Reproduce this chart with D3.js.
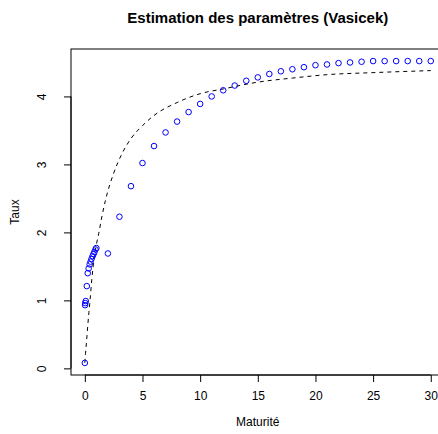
<!DOCTYPE html>
<html>
<head>
<meta charset="utf-8">
<script src="https://cdn.jsdelivr.net/npm/d3@7"></script>
<style>
  html, body { margin: 0; padding: 0; background: #fff; }
  svg { display: block; font-family: "Liberation Sans", Arial, Helvetica, sans-serif; }
</style>
</head>
<body>
<svg id="chart" width="438" height="434"></svg>
<script>
// Observed zero-coupon rates by maturity (years)
const maturites = [0, 0.02, 0.04, 0.08, 0.17, 0.25, 0.33, 0.42, 0.5, 0.58, 0.67, 0.75, 0.83, 0.92, 1,
  2, 3, 4, 5, 6, 7, 8, 9, 10, 11, 12, 13, 14, 15, 16, 17, 18, 19, 20,
  21, 22, 23, 24, 25, 26, 27, 28, 29, 30];
const tauxObserves = [0.08, 0.93, 0.96, 0.99, 1.21, 1.40, 1.47, 1.53, 1.57, 1.61, 1.65, 1.68, 1.71, 1.75, 1.77,
  1.69, 2.23, 2.68, 3.02, 3.27, 3.47, 3.63, 3.77, 3.89, 4.00, 4.09, 4.16, 4.23, 4.28, 4.33, 4.37, 4.40, 4.43, 4.46,
  4.47, 4.49, 4.50, 4.51, 4.52, 4.52, 4.52, 4.52, 4.52, 4.52];

// Fitted Vasicek curve
const maturitesModele = [0, 0.06, 0.15, 0.25, 0.35, 0.45, 0.6, 0.84, 1, 1.2, 1.5, 1.8, 2.5, 3.2, 4, 5, 6, 8, 10, 12, 15, 18, 21, 25, 30];
const tauxModele = [0.08, 0.22, 0.40, 0.62, 0.82, 1.0, 1.3, 1.66, 1.82, 1.98, 2.25, 2.48, 2.87, 3.15, 3.38, 3.57, 3.72, 3.91, 4.04, 4.11, 4.21, 4.27, 4.32, 4.35, 4.38];

const xTicks = [0, 5, 10, 15, 20, 25, 30];
const yTicks = [0, 1, 2, 3, 4];

const titre = "Estimation des paramètres (Vasicek)";
const titreX = "Maturité";
const titreY = "Taux";

const svg = d3.select("#chart");
const plot = { left: 71, top: 49, right: 444.6, bottom: 375 };

// Axis limits padded by 4% on both sides
function pad(ext) {
  const d = (ext[1] - ext[0]) * 0.04;
  return [ext[0] - d, ext[1] + d];
}
const x = d3.scaleLinear().domain(pad(d3.extent(maturites))).range([plot.left, plot.right]);
const y = d3.scaleLinear().domain(pad(d3.extent(tauxObserves))).range([plot.bottom, plot.top]);

const g = svg.append("g");

// Fitted curve
const line = d3.line()
  .x((d, i) => x(maturitesModele[i]))
  .y((d, i) => y(tauxModele[i]))
  .curve(d3.curveMonotoneX);
g.append("path")
  .datum(tauxModele)
  .attr("d", line)
  .attr("fill", "none")
  .attr("stroke", "#000")
  .attr("stroke-width", 1)
  .attr("stroke-dasharray", "4,4");

// Observed points
g.selectAll("circle.obs")
  .data(tauxObserves)
  .join("circle")
  .attr("class", "obs")
  .attr("cx", (d, i) => x(maturites[i]))
  .attr("cy", d => y(d))
  .attr("r", 2.8)
  .attr("fill", "none")
  .attr("stroke", "#0000ff")
  .attr("stroke-width", 1);

// Plot frame
svg.append("rect")
  .attr("x", plot.left).attr("y", plot.top)
  .attr("width", plot.right - plot.left).attr("height", plot.bottom - plot.top)
  .attr("fill", "none").attr("stroke", "#000").attr("stroke-width", 1);

// Axes
const xAxis = d3.axisBottom(x).tickValues(xTicks).tickSize(7).tickPadding(9).tickFormat(d3.format("d"));
const xg = svg.append("g").attr("transform", `translate(0,${plot.bottom})`).call(xAxis);
xg.select(".domain").attr("d", `M${x(xTicks[0])},0H${x(xTicks[xTicks.length - 1])}`);

const yAxis = d3.axisLeft(y).tickValues(yTicks).tickSize(7).tickPadding(0).tickFormat(d3.format("d"));
const yg = svg.append("g").attr("transform", `translate(${plot.left},0)`).call(yAxis);
yg.select(".domain").attr("d", `M0,${y(yTicks[0])}V${y(yTicks[yTicks.length - 1])}`);
yg.selectAll(".tick text")
  .attr("x", 0).attr("dy", null)
  .attr("transform", "translate(-29,0) rotate(-90)")
  .attr("text-anchor", "middle")
  .attr("dominant-baseline", "central");

svg.selectAll(".tick text").attr("font-size", 12).attr("fill", "#000")
  .attr("font-family", "Liberation Sans, Arial, sans-serif");
svg.selectAll(".tick line, .domain").attr("stroke", "#000");

// Titles
svg.append("text")
  .attr("x", (plot.left + plot.right) / 2).attr("y", 23)
  .attr("text-anchor", "middle")
  .attr("font-weight", "bold").attr("font-size", 15)
  .text(titre);
svg.append("text")
  .attr("x", (plot.left + plot.right) / 2).attr("y", 426)
  .attr("text-anchor", "middle").attr("font-size", 12)
  .text(titreX);
svg.append("text")
  .attr("transform", `translate(19,${(plot.top + plot.bottom) / 2}) rotate(-90)`)
  .attr("text-anchor", "middle").attr("font-size", 12)
  .text(titreY);
</script>
</body>
</html>
